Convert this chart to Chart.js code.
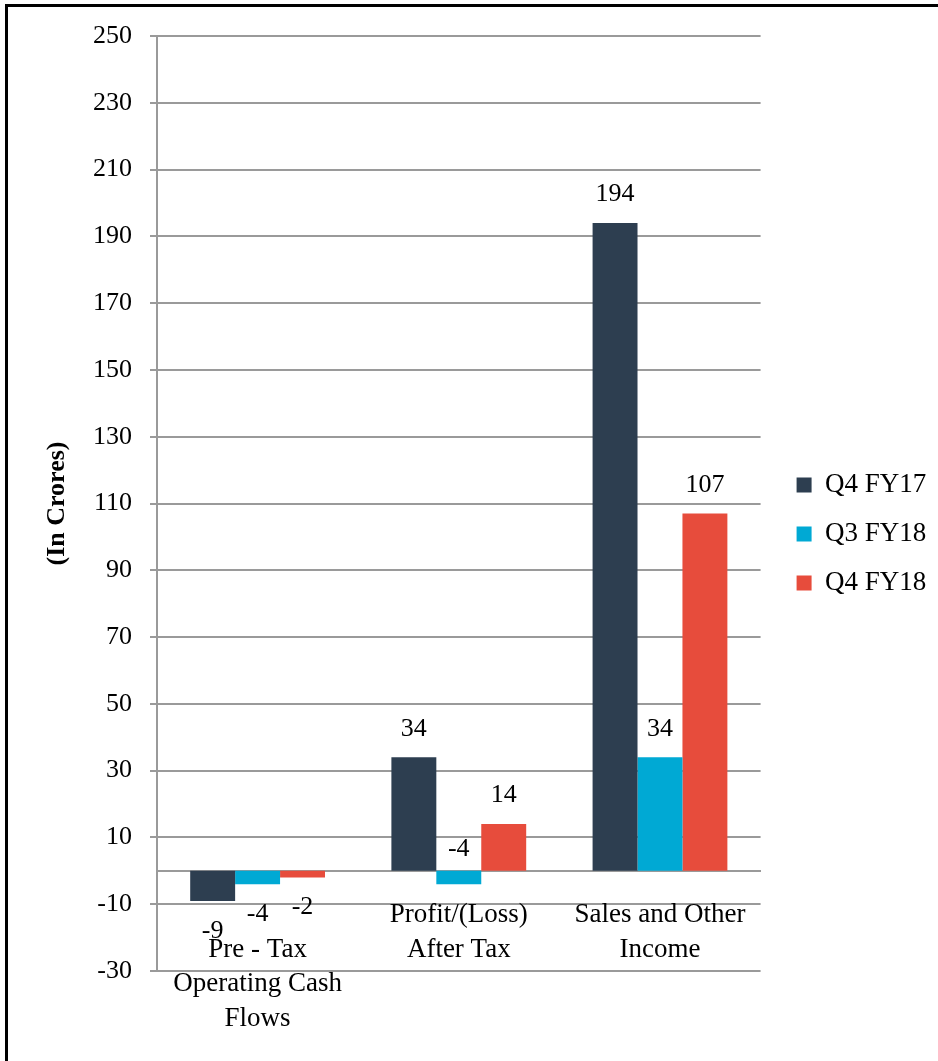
<!DOCTYPE html>
<html><head><meta charset="utf-8">
<script src="https://cdn.jsdelivr.net/npm/chart.js@4/dist/chart.umd.min.js"></script>
<style>
html,body{margin:0;padding:0;background:#fff;overflow:hidden}
#wrap{position:relative;width:938px;height:1061px}
#frame{position:absolute;left:5px;top:4px;right:-10px;bottom:-10px;border-top:3px solid #000;border-left:3px solid #000;pointer-events:none}
canvas{display:block}
</style></head><body>
<div id="wrap"><canvas id="c" width="938" height="1061"></canvas><div id="frame"></div></div>
<script>
// ---- data ----
const categories = [['', 'Pre - Tax', 'Operating Cash', 'Flows'], ['Profit/(Loss)', 'After Tax'], ['Sales and Other', 'Income']];
const seriesNames = ['Q4 FY17', 'Q3 FY18', 'Q4 FY18'];
const q4fy17 = [-9, 34, 194];
const q3fy18 = [-4, -4, 34];
const q4fy18 = [-2, 14, 107];
const yMin = -30;
const yMax = 250;
const yStep = 20;
const yTitle = '(In Crores)';

// ---- styling ----
const colors = ['#2d3e50', '#00a9d4', '#e74c3c'];
const FONT = "'Liberation Serif', 'Times New Roman', serif";
const gridColor = '#9a9a9a';
Chart.defaults.font.family = FONT;
Chart.defaults.color = '#000';

// label placement: 'out' = beyond bar end, 'above0' = above the zero line
const labelPlacement = [['out', 'out', 'out'], ['out', 'above0', 'out'], ['out', 'out', 'out']];

const barLabels = {
  id: 'barLabels',
  afterDatasetsDraw(chart) {
    const ctx = chart.ctx;
    ctx.save();
    ctx.font = "26px " + FONT;
    ctx.fillStyle = '#000';
    ctx.textAlign = 'center';
    ctx.textBaseline = 'middle';
    chart.data.datasets.forEach((ds, di) => {
      const meta = chart.getDatasetMeta(di);
      meta.data.forEach((bar, i) => {
        const v = ds.data[i];
        const place = labelPlacement[di][i];
        let y;
        if (place === 'above0') y = bar.base - 22;
        else y = v >= 0 ? bar.y - 28.5 : bar.y + 30;
        ctx.fillText(String(v), bar.x, y);
      });
    });
    ctx.restore();
  }
};

new Chart(document.getElementById('c'), {
  type: 'bar',
  data: {
    labels: categories,
    datasets: [
      { label: seriesNames[0], data: q4fy17, backgroundColor: colors[0] },
      { label: seriesNames[1], data: q3fy18, backgroundColor: colors[1] },
      { label: seriesNames[2], data: q4fy18, backgroundColor: colors[2] }
    ]
  },
  options: {
    responsive: false,
    animation: false,
    categoryPercentage: 0.67,
    barPercentage: 1.0,
    layout: { padding: { top: 36, bottom: 90, left: 0, right: 8.5 } },
    plugins: {
      tooltip: { enabled: false },
      legend: {
        position: 'right',
        align: 'center',
        title: { display: true, text: ' ', font: { size: 1 }, padding: { top: 60, bottom: 0 } },
        labels: {
          boxWidth: 15, boxHeight: 15, padding: 22,
          font: { size: 27, family: FONT }, color: '#000'
        }
      }
    },
    scales: {
      x: {
        position: { y: 0 },
        grid: { display: false, drawTicks: false },
        border: { display: true, color: gridColor, width: 2 },
        ticks: {
          autoSkip: false, maxRotation: 0, padding: 27,
          font: { size: 27, family: FONT, lineHeight: 1.28 }, color: '#000'
        }
      },
      y: {
        min: yMin, max: yMax,
        ticks: { stepSize: yStep, padding: 18, font: { size: 26, family: FONT }, color: '#000' },
        grid: { color: gridColor, lineWidth: 2, tickLength: 7, drawTicks: true },
        border: { display: true, color: gridColor, width: 2 },
        title: { display: true, text: yTitle, font: { size: 26, weight: 'bold', family: FONT }, color: '#000', padding: { top: 42, bottom: 0 } },
        afterFit(s) { s.width = 157; }
      },
      spacer: {
        type: 'linear', position: 'right', display: true,
        grid: { display: false, drawTicks: false }, border: { display: false },
        ticks: { display: false },
        afterFit(s) { s.width = 14; }
      }
    }
  },
  plugins: [barLabels]
});
</script>
</body></html>
